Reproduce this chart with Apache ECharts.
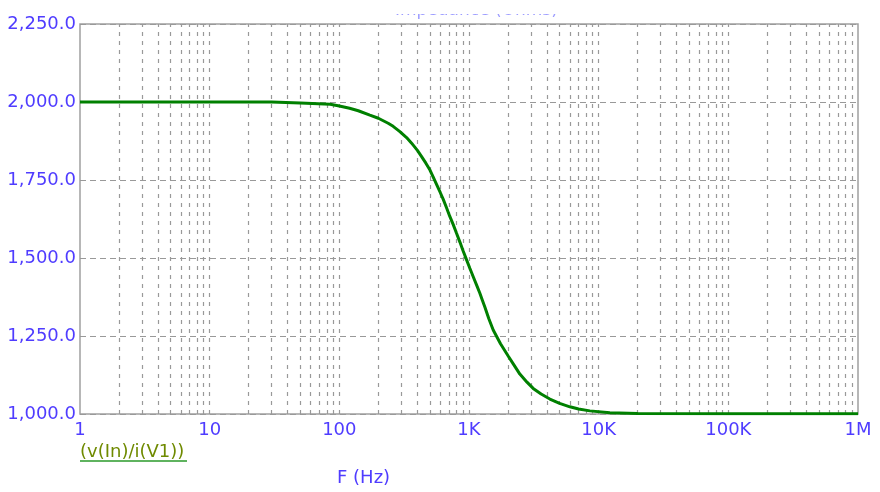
<!DOCTYPE html>
<html>
<head>
<meta charset="utf-8">
<script src="https://cdn.jsdelivr.net/npm/echarts@6/dist/echarts.min.js"></script>
<style>
html, body { margin: 0; padding: 0; background: #fff; }
#chart { width: 880px; height: 492px; }
</style>
</head>
<body>
<div id="chart"></div>
<script>
// frequency (Hz) and impedance
const freqs = [1, 10, 30, 50, 85, 100, 120, 140, 172, 200, 238, 260, 293, 330, 361, 400, 431, 465, 500, 530, 562, 600, 633, 671, 710, 756, 800, 851, 900, 958, 1015, 1078, 1145, 1213, 1270, 1327, 1420, 1537, 1750, 2005, 2200, 2467, 2800, 3126, 3600, 4203, 5000, 5998, 7000, 8550, 12200, 20000, 100000, 1000000];
const values = [2000, 2000, 2000, 1997, 1993, 1987, 1980, 1972, 1958, 1948, 1932, 1922, 1905, 1886, 1868, 1845, 1825, 1804, 1782, 1759, 1736, 1710, 1688, 1661, 1634, 1607, 1580, 1551, 1523, 1494, 1467, 1440, 1413, 1387, 1364, 1342, 1306, 1269, 1225, 1186, 1160, 1128, 1102, 1082, 1064, 1048, 1034, 1023, 1016, 1010, 1004, 1002, 1001, 1001];

const xTickLabels = ['1', '10', '100', '1K', '10K', '100K', '1M'];
// vertical grid lines: 1..9 in every decade
const gridFreqs = [];
[1, 10, 100, 1000, 10000, 100000].forEach(function (d) {
  for (let k = 1; k < 10; k++) gridFreqs.push(k * d);
});
gridFreqs.push(1000000);

const labelColor = '#4f3cff';
const fontFamily = 'DejaVu Sans';

const chart = echarts.init(document.getElementById('chart'));
chart.setOption({
  animation: false,
  grid: {
    left: 80, right: 22, top: 24, bottom: 78,
    show: true,
    borderColor: '#a0a0a0',
    borderWidth: 1.5
  },
  xAxis: {
    type: 'log',
    logBase: 10,
    min: 1,
    max: 1000000,
    axisLine: { show: false },
    axisTick: { show: false },
    splitLine: { show: false },
    axisLabel: {
      color: labelColor,
      fontFamily: fontFamily,
      fontSize: 18,
      margin: 7,
      formatter: function (v) {
        return xTickLabels[Math.round(Math.log10(v))];
      }
    }
  },
  yAxis: {
    type: 'value',
    min: 1000,
    max: 2250,
    interval: 250,
    axisLine: { show: false },
    axisTick: { show: false },
    splitLine: {
      show: true,
      lineStyle: { color: '#999', type: [6, 4], width: 1 }
    },
    axisLabel: {
      color: labelColor,
      fontFamily: fontFamily,
      fontSize: 18,
      margin: 4,
      formatter: function (v) {
        return v.toLocaleString('en-US', { minimumFractionDigits: 1, maximumFractionDigits: 1 });
      }
    }
  },
  series: [
    {
      type: 'line',
      data: freqs.map(function (f, i) { return [f, values[i]]; }),
      showSymbol: false,
      smooth: false,
      lineStyle: { color: '#008000', width: 3 },
      z: 5,
      markLine: {
        silent: true,
        symbol: 'none',
        label: { show: false },
        lineStyle: { color: '#999', type: [4, 5], width: 1.2 },
        data: gridFreqs.slice(1, -1).map(function (f) { return { xAxis: f }; })
      }
    }
  ],
  graphic: [
    // clipped title at the very top
    {
      type: 'text', left: 395, top: 2, z: 1,
      style: { text: 'Impedance (Ohms)', fill: '#5a5aff', font: '17px "DejaVu Sans"', opacity: 0.6 }
    },
    { type: 'rect', shape: { x: 300, y: 0, width: 300, height: 14 }, style: { fill: '#fff' }, z: 2 },
    {
      type: 'text', left: 80, top: 443,
      style: { text: '(v(In)/i(V1))', fill: '#6f8a00', font: '18px "DejaVu Sans"' }
    },
    {
      type: 'line', shape: { x1: 80, y1: 461, x2: 187, y2: 461 },
      style: { stroke: '#2a9a2a', lineWidth: 1.5 }
    },
    {
      type: 'text', left: 337, top: 469,
      style: { text: 'F (Hz)', fill: labelColor, font: '18px "DejaVu Sans"' }
    }
  ]
});
</script>
</body>
</html>
